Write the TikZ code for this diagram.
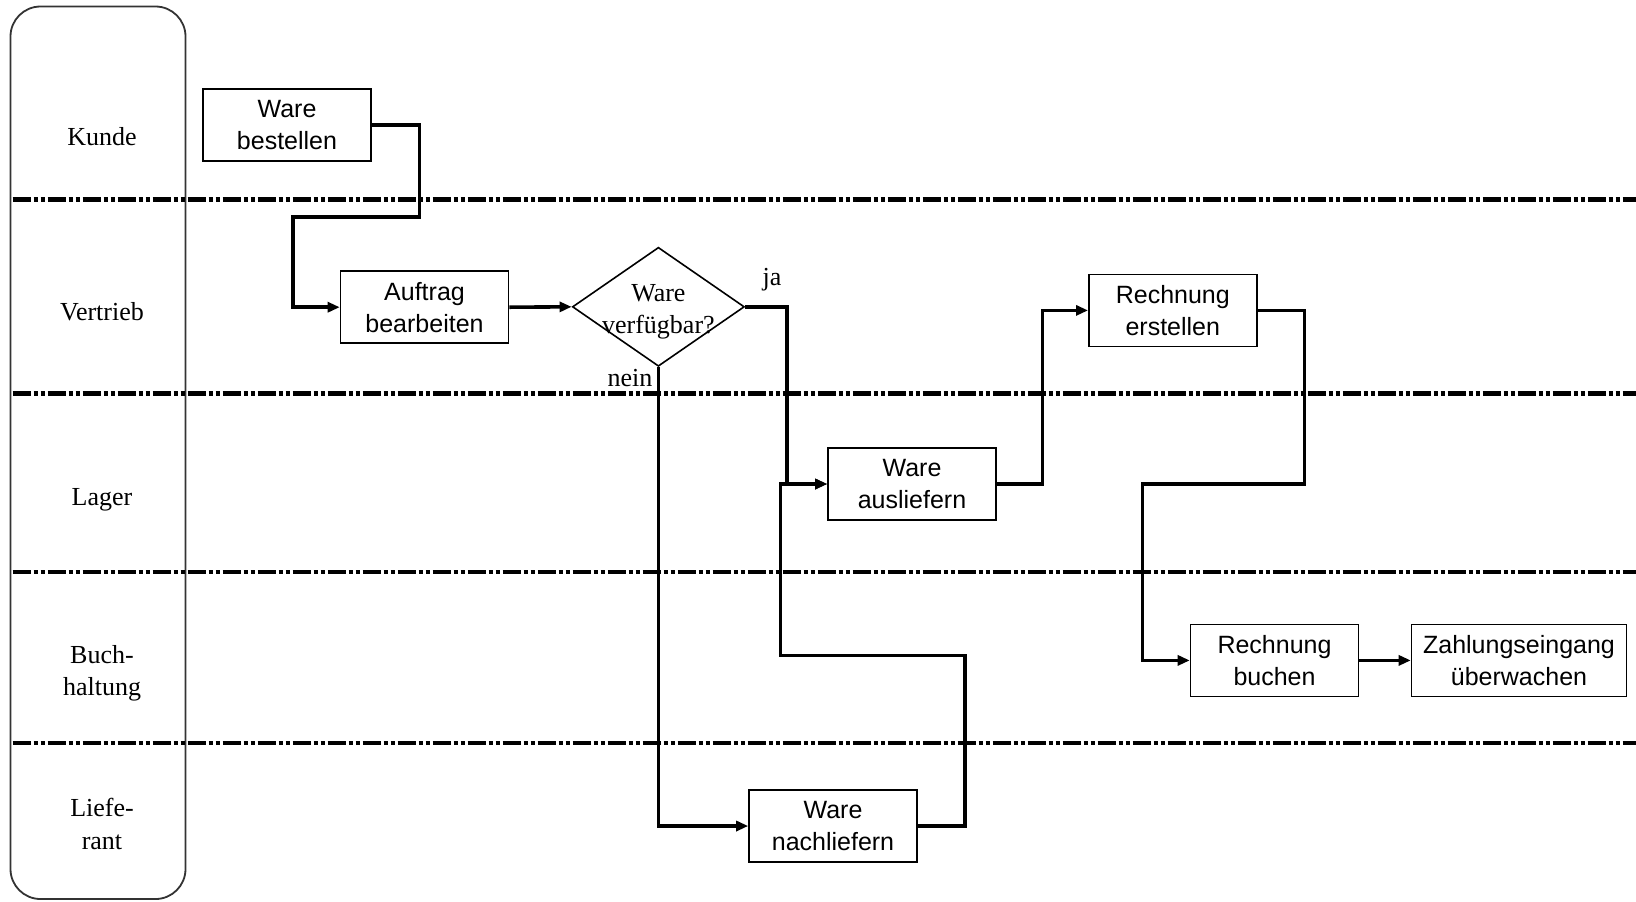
\documentclass[tikz,border=0pt]{standalone}
\usepackage{fontspec}
\setmainfont{Liberation Serif}
\setsansfont{Liberation Sans}
\usetikzlibrary{shapes.geometric,arrows.meta}

\tikzset{
  task/.style={draw, line width=0.8pt, minimum width=84pt, minimum height=36pt, inner sep=2pt,
    align=center, font=\sffamily\fontsize{12.5}{16}\selectfont},
  decision/.style={draw, diamond, line width=0.8pt, minimum width=86pt, minimum height=59.5pt, inner sep=0pt},
  lane/.style={align=center, font=\fontsize{13}{16.2}\selectfont},
  flow/.style={line width=1.8pt, -{Triangle[length=6pt,width=5pt]}},
  border/.style={line width=2.2pt, dash pattern=on 9pt off 1.5pt on 2pt off 1.5pt on 2pt off 1.5pt},
}

\begin{document}
\begin{tikzpicture}[x=0.5pt,y=-0.5pt]
\useasboundingbox (0,0) rectangle (1636,901);

% Bahnen
\draw[line width=0.9pt, black!80, rounded corners=15pt] (10.5,6.5) rectangle (185.5,899);
\foreach \y in {199.3,393.4,571.8,742.9}
  \draw[border] (12.5,\y) -- (1636,\y);

\node[lane] (kunde) at (102,136.7) {Kunde};
\node[lane] (vertrieb) at (102,312) {Vertrieb};
\node[lane] (lager) at (102,499.8) {Lager};
\node[lane] (buchhaltung) at (102,673) {Buch-\\haltung};
\node[lane] (lieferant) at (102,824) {Liefe-\\rant};

% Aufgaben
\node[task] (bestellen) at (287,124.7) {Ware\\bestellen};
\node[task] (auftrag) at (424.5,307.2) {Auftrag\\bearbeiten};
\node[decision, label={[lane, yshift=-2.5pt]center:Ware\\verfügbar?}] (verf) at (658.4,306.8) {};
\node[task] (erstellen) at (1172.8,310.4) {Rechnung\\erstellen};
\node[task] (ausliefern) at (912,484) {Ware\\ausliefern};
\node[task] (buchen) at (1274.5,660.4) {Rechnung\\buchen};
\node[task, minimum width=107.5pt] (zahlung) at (1519,660.4) {Zahlungseingang\\überwachen};
\node[task] (nachliefern) at (833,826) {Ware\\nachliefern};

\node[lane] (ja) at (772,279.6) {ja};
\node[lane] (nein) at (630,377.7) {nein};

% Fluss
\draw[flow] (bestellen.east) -| (419.5,217) -- (293,217) |- (auftrag.west);
\draw[flow] (auftrag.east) -- (verf.west);
\draw[flow] (verf.east) -| (786.7,484) -- (ausliefern.west);
\draw[flow] (verf.south) |- (nachliefern.west);
\draw[flow] (nachliefern.east) -| (965,655.3) -| (780.5,484) -- (ausliefern.west);
\draw[flow] (ausliefern.east) -| (1042.4,310.4) -- (erstellen.west);
\draw[flow] (erstellen.east) -| (1304.3,484) -| (1142.6,660.4) -- (buchen.west);
\draw[flow] (buchen.east) -- (zahlung.west);

\end{tikzpicture}
\end{document}
